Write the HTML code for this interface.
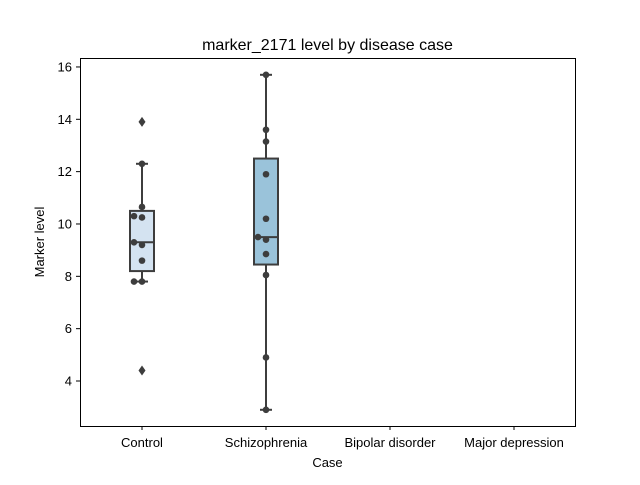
<!DOCTYPE html>
<html><head><meta charset="utf-8"><style>
body{margin:0;background:#fff;font-family:"Liberation Sans",sans-serif}
svg text{font-family:"Liberation Sans",sans-serif;fill:#000}
</style></head><body>
<svg id="c" width="640" height="480" xmlns="http://www.w3.org/2000/svg">
<rect width="640" height="480" fill="#fff"/>
<text x="327.5" y="50" font-size="16" text-anchor="middle">marker_2171 level by disease case</text>
<text x="327.5" y="467" font-size="13" text-anchor="middle">Case</text>
<text transform="translate(44,242) rotate(-90)" font-size="13" text-anchor="middle">Marker level</text>
<g id="plot"></g>
<rect x="80.5" y="58.5" width="495" height="368" fill="none" stroke="#000" stroke-width="1"/>
</svg>
<script>
const categories=["Control","Schizophrenia","Bipolar disorder","Major depression"];
const boxStats=[[7.8,8.2,9.3,10.5,12.3],[2.9,8.45,9.5,12.5,15.7],null,null];
const outliers=[[13.9,4.4],[],[],[]];
const points=[[12.3,10.65,10.3,10.25,9.3,9.2,8.6,7.8,7.8],[15.7,13.6,13.15,11.9,10.2,9.5,9.4,8.85,8.05,4.9,2.9],[],[]];
const pointOffsets=[[0,0,-8,0,-8,0,0,-8,0],[0,0,0,0,0,-8,0,0,0,0,0],[],[]];
const yTicks=[4,6,8,10,12,14,16];
const fills=["#d4e3f1","#9ac3da","#5a9dcb","#2171b5"];
const NS="http://www.w3.org/2000/svg";
const g=document.getElementById('plot');
const y=v=>381-(v-4)*26.17;
const x=i=>142+i*124;
function mk(t,a){const e=document.createElementNS(NS,t);for(const k in a)e.setAttribute(k,a[k]);g.appendChild(e);return e;}
yTicks.forEach(v=>{
 const l=mk('line',{x1:76,x2:80,y1:y(v),y2:y(v),stroke:'#000'});
 
 
 const t=mk('text',{x:72,y:y(v)+4.5,'font-size':13,'text-anchor':'end'});t.textContent=v;
 
 
});
categories.forEach((c,i)=>{
 const l=mk('line',{x1:x(i),x2:x(i),y1:426,y2:430,stroke:'#000'});
 
 
 const t=mk('text',{x:x(i),y:447,'font-size':13,'text-anchor':'middle'});t.textContent=c;
 
 
 const s=boxStats[i];
 if(s){
  const w=mk('line',{x1:x(i),x2:x(i),y1:y(s[0]),y2:y(s[4]),stroke:'#3d3d3d','stroke-width':2});
  
  
  [s[0],s[4]].forEach(v=>{const cap=mk('line',{x1:x(i)-6,x2:x(i)+6,y1:y(v),y2:y(v),stroke:'#3d3d3d','stroke-width':2});
   
   });
  const b=mk('rect',{x:x(i)-12,y:y(s[3]),width:24,height:y(s[1])-y(s[3]),fill:fills[i],stroke:'#3d3d3d','stroke-width':2});
  
  
  const m=mk('line',{x1:x(i)-12,x2:x(i)+12,y1:y(s[2]),y2:y(s[2]),stroke:'#3d3d3d','stroke-width':2});
  
  
 }
 outliers[i].forEach(v=>{const cy=y(v);
  const o=mk('path',{d:`M${x(i)} ${cy-5}L${x(i)+3.5} ${cy}L${x(i)} ${cy+5}L${x(i)-3.5} ${cy}Z`,fill:'#3d3d3d'});
  
  });
 points[i].forEach((v,j)=>{
  const p=mk('circle',{cx:x(i)+(pointOffsets[i][j]||0),cy:y(v),r:3.3,fill:'#3d3d3d'});
  
  
 });
});
</script>
</body></html>
